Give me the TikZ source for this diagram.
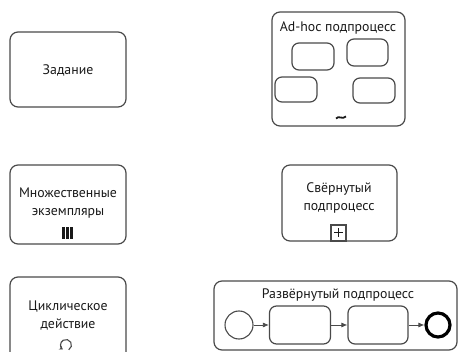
\documentclass[tikz,border=0pt]{standalone}
\usepackage{fontspec}
\setmainfont{PT Sans}
\usetikzlibrary{arrows.meta}
\definecolor{edge}{HTML}{4A4A4A}
\tikzset{
  task/.style={draw=edge, line width=1.2pt, rounded corners=8pt},
  small/.style={draw=edge, line width=1.2pt, rounded corners=7pt},
  lbl/.style={font=\fontsize{13.8}{18}\selectfont, align=center, text=black!90, inner sep=0pt},
  flow/.style={draw=edge, line width=0.8pt, -{Latex[length=6pt,width=5pt]}},
}
\begin{document}
\begin{tikzpicture}[x=1pt,y=-1pt]
\useasboundingbox (0,0) rectangle (463,352);
% Task
\draw[task] (10,32) rectangle (126,107);
\node[lbl] (t1) at (68,70) {Задание};
% Multi-instance
\draw[task] (10,165) rectangle (126,244);
\node[lbl] (t2) at (68,203) {Множественные\\экземпляры};
\foreach \i in {0,1,2} \fill[black!90] (62.3+\i*4,227) rectangle ++(2.6,12);
% Loop
\draw[task] (10,277) rectangle (126,370);
\node[lbl] (t3) at (68,316) {Циклическое\\действие};
\draw[edge, line width=1.1pt, -{Stealth[length=3.5pt,width=4.5pt]}] (66,345) ++(60:5.5) arc (60:-235:5.5);
% Ad-hoc
\draw[task] (272,12) rectangle (405,126);
\node[lbl] (t4) at (338,28) {Ad-hoc подпроцесс};
\draw[small] (292,43) rectangle (334,70);
\draw[small] (347,39) rectangle (388,66);
\draw[small] (275,77) rectangle (317,102);
\draw[small] (353,78) rectangle (395,103);
\draw[black!90, line width=1.8pt] (336,118.5) .. controls (339,115) and (342,120) .. (346,116.5);
% Collapsed
\draw[task] (282,165) rectangle (397,241);
\node[lbl] (t5) at (339,198) {Свёрнутый\\подпроцесс};
\draw[edge, line width=1.1pt] (331,225) rectangle (346,241);
\draw[black!90, line width=1pt] (338.5,228.5) -- (338.5,237.5) (334,233) -- (343,233);
% Expanded
\draw[task] (214,281) rectangle (457,350);
\node[lbl] (t6) at (338,295) {Развёрнутый подпроцесс};
\node[draw=edge, line width=1.1pt, circle, minimum size=28pt, inner sep=0pt] (s) at (239,325) {};
\node[small, minimum width=61pt, minimum height=38pt] (a) at (300,325) {};
\node[small, minimum width=60pt, minimum height=38pt] (b) at (378,325) {};
\node[draw=black, line width=3.2pt, circle, minimum size=24pt, inner sep=0pt] (e) at (438,325) {};
\draw[flow] (s) -- (a);
\draw[flow] (a) -- (b);
\draw[flow] (b) -- (e);
\end{tikzpicture}
\end{document}
